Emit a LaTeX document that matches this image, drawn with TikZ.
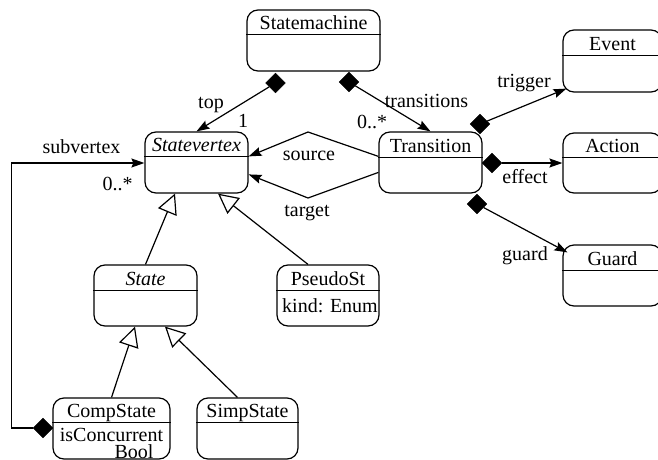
\documentclass[tikz,border=0pt]{standalone}
\usepackage{fontspec}
\setmainfont{Liberation Serif}
\usetikzlibrary{arrows.meta,calc,shapes.geometric}
\tikzset{
  box/.style={draw, line width=1.2pt, rounded corners=11pt, inner sep=0pt},
  hdrline/.style={line width=1.2pt},
  txt/.style={font=\fontsize{20}{24}\selectfont, inner sep=0pt, anchor=base},
  arr/.style={line width=1.2pt, -{Stealth[length=13pt,width=9pt,inset=2pt]}},
  gen/.style={line width=1.2pt, -{Triangle[open,length=20pt,width=20pt,fill=white]}},
  dmd/.style={diamond, fill=black, draw=black, minimum width=20pt, minimum height=20pt, inner sep=0pt},
}
\newcommand\umlbox[7]{%
  \node[box, minimum width=#4pt, minimum height=#5pt] (#1) at (#2,#3) {};
  \draw[hdrline] ($(#1.north west)+(0,#6)$) -- ($(#1.north east)+(0,#6)$);
  \node[txt] (#1-t) at ($(#1.north)+(0,#6-5)$) {#7};
}
\begin{document}
\begin{tikzpicture}[x=1pt,y=-1pt]
\useasboundingbox (0,0) rectangle (658,460);
% boxes
\umlbox{sm}{313.5}{40.5}{133}{61}{25}{Statemachine}
\umlbox{sv}{196.5}{162.5}{103}{61}{25}{\itshape Statevertex}
\umlbox{tr}{430.5}{162.5}{103}{61}{26}{Transition}
\umlbox{ev}{612.5}{61}{99}{62}{26}{Event}
\umlbox{ac}{612.5}{163}{99}{60}{25}{Action}
\umlbox{gd}{612.5}{275.5}{99}{61}{26}{Guard}
\umlbox{st}{145.5}{295.5}{103}{61}{26}{\itshape State}
\umlbox{ps}{328}{295.5}{102}{61}{26}{PseudoSt}
\umlbox{cs}{111.5}{428.5}{117}{61}{25}{CompState}
\umlbox{ss}{247.5}{428.5}{101}{61}{25}{SimpState}
% body texts
\node[txt] (psk) at (330,312) {kind: Enum};
\node[txt] (csi) at (111.5,441) {isConcurrent};
\node[txt] (csb) at (134,458) {Bool};
% diamonds
\node[dmd] (d1) at (275.5,83) {};
\node[dmd] (d2) at (349,82) {};
\node[dmd] (d3) at (480,124) {};
\node[dmd] (d4) at (492,163) {};
\node[dmd] (d5) at (477,204) {};
\node[dmd] (d6) at (43,428) {};
% helper coordinates
\coordinate (srcpk) at (308,132);
\coordinate (tgtpk) at (308,198);
\coordinate (evin) at ($(ev.south west)+(4,-4)$);
\coordinate (gdin) at ($(gd.north west)+(5,8)$);
% compositions
\draw[arr] (d1) -- (sv.north);
\draw[arr] (d2) -- (tr.north);
\draw[arr] (d3) -- (evin);
\draw[arr] (d4) -- (ac.west);
\draw[arr] (d5) -- (gdin);
\draw[arr] (d6.west) -- ++(-21,0) |- ($(sv.west)+(0,0.5)$);
% associations
\draw[arr] ($(tr.north west)+(0,25)$) -- (srcpk) -- ($(sv.north east)+(0,25)$);
\draw[arr] ($(tr.north west)+(0,41)$) -- (tgtpk) -- ($(sv.north east)+(0,43)$);
% generalizations
\draw[gen] (st.north) -- ($(sv.south)+(-21.5,0)$);
\draw[gen] ($(ps.north)+(-20,0)$) -- ($(sv.south)+(21.5,0)$);
\draw[gen] (cs.north) -- ($(st.south)+(-10.5,0)$);
\draw[gen] ($(ss.north)+(-10,0)$) -- ($(st.south)+(19.5,0)$);
% labels
\node[txt] (ltop) at (211,108) {top};
\node[txt] (l1) at (243,127) {1};
\node[txt] (ltr) at (426.5,107) {transitions};
\node[txt] (lm1) at (372,128) {0..*};
\node[txt] (lsrc) at (309,160) {source};
\node[txt] (ltgt) at (307,216) {target};
\node[txt] (lsub) at (81.5,153) {subvertex};
\node[txt] (lm2) at (117.5,190) {0..*};
\node[txt] (ltrg) at (524,88) {trigger};
\node[txt] (leff) at (525,183) {effect};
\node[txt] (lgd) at (525,260) {guard};
\end{tikzpicture}
\end{document}
